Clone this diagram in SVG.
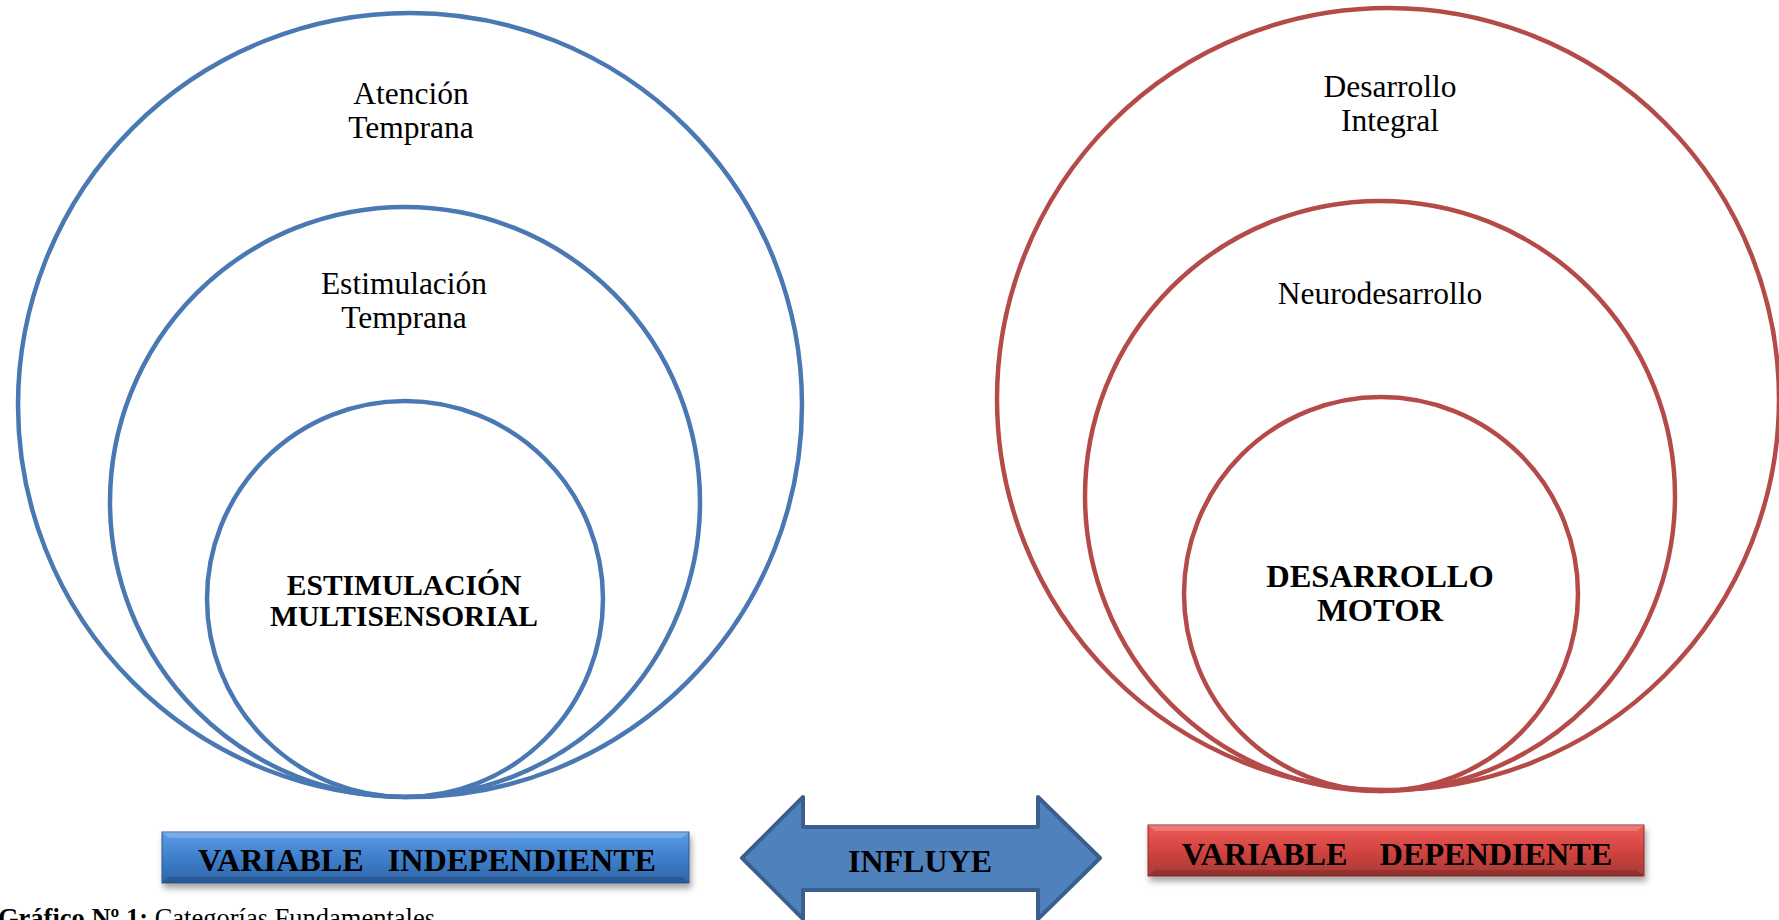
<svg xmlns="http://www.w3.org/2000/svg" width="1779" height="920" viewBox="0 0 1779 920">
<style>
.cb{fill:none;stroke:#4A78B2;stroke-width:4.5}
.cr{fill:none;stroke:#B54B48;stroke-width:4.5}
.t{font-family:"Liberation Serif","Times New Roman",serif;font-size:31.5px;fill:#000;text-anchor:middle}
.tb{font-family:"Liberation Serif","Times New Roman",serif;font-weight:bold;fill:#000;text-anchor:middle}
.bx{font-family:"Liberation Serif","Times New Roman",serif;font-weight:bold;font-size:32.2px;fill:#000;text-anchor:middle;white-space:pre}
</style>
<defs>
<linearGradient id="gb" x1="0" y1="0" x2="0" y2="1">
<stop offset="0" stop-color="#5C9CE6"/>
<stop offset="0.5" stop-color="#3F7FCB"/>
<stop offset="1" stop-color="#2F66A8"/>
</linearGradient>
<linearGradient id="gr" x1="0" y1="0" x2="0" y2="1">
<stop offset="0" stop-color="#EE5B57"/>
<stop offset="0.5" stop-color="#D24440"/>
<stop offset="1" stop-color="#A63A37"/>
</linearGradient>
<filter id="sh" x="-5%" y="-20%" width="110%" height="160%">
<feDropShadow dx="2" dy="5" stdDeviation="3" flood-color="#000" flood-opacity="0.35"/>
</filter>
</defs>
<rect width="1779" height="920" fill="#fff"/>
<g id="atencion">
<circle class="cb" cx="410" cy="405" r="392"/>
<text class="t" x="411" y="104">Atención</text>
<text class="t" x="411" y="138">Temprana</text>
</g>
<g id="estimulacion-temprana">
<circle class="cb" cx="405" cy="502" r="295"/>
<text class="t" x="404" y="294">Estimulación</text>
<text class="t" x="404" y="328">Temprana</text>
</g>
<g id="estimulacion-multisensorial">
<circle class="cb" cx="405" cy="599" r="198"/>
<text class="tb" font-size="29.5" x="404" y="595">ESTIMULACIÓN</text>
<text class="tb" font-size="29.5" x="404" y="626">MULTISENSORIAL</text>
</g>
<g id="desarrollo-integral">
<circle class="cr" cx="1388" cy="399" r="391"/>
<text class="t" x="1390" y="97">Desarrollo</text>
<text class="t" x="1390" y="131">Integral</text>
</g>
<g id="neurodesarrollo">
<circle class="cr" cx="1380" cy="496" r="295"/>
<text class="t" x="1380" y="304">Neurodesarrollo</text>
</g>
<g id="desarrollo-motor">
<circle class="cr" cx="1381" cy="594" r="197"/>
<text class="tb" font-size="32.5" x="1380" y="587">DESARROLLO</text>
<text class="tb" font-size="32.5" x="1380" y="621">MOTOR</text>
</g>
<g id="variable-independiente">
<rect x="162" y="832" width="527" height="51" fill="url(#gb)" stroke="#2C5A94" stroke-width="1" filter="url(#sh)"/>
<path d="M162,832 L689,832 L682,838 L169,838 Z" fill="#fff" opacity="0.2"/>
<path d="M162,883 L689,883 L682,877 L169,877 Z" fill="#000" opacity="0.15"/>
<text class="bx" x="427" y="871">VARIABLE   INDEPENDIENTE</text>
</g>
<g id="variable-dependiente">
<rect x="1148" y="825" width="496" height="51" fill="url(#gr)" stroke="#8E2E2B" stroke-width="1" filter="url(#sh)"/>
<path d="M1148,825 L1644,825 L1637,831 L1155,831 Z" fill="#fff" opacity="0.2"/>
<path d="M1148,876 L1644,876 L1637,870 L1155,870 Z" fill="#000" opacity="0.15"/>
<text class="bx" x="1397" y="865">VARIABLE    DEPENDIENTE</text>
</g>
<g id="connectors">
<g id="influye">
<path d="M742,858 L803,797 L803,827 L1038,827 L1038,797 L1100,858 L1038,919 L1038,890 L803,890 L803,919 Z" fill="#4F81BD" stroke="#3A5F8E" stroke-width="4" stroke-linejoin="round"/>
<text class="tb" font-size="32" x="920" y="872">INFLUYE</text>
</g>
</g>
<text x="-2" y="927" font-family="Liberation Serif, Times New Roman, serif" font-size="26.5" fill="#000"><tspan font-weight="bold">Gráfico Nº 1:</tspan> Categorías Fundamentales</text>
</svg>
